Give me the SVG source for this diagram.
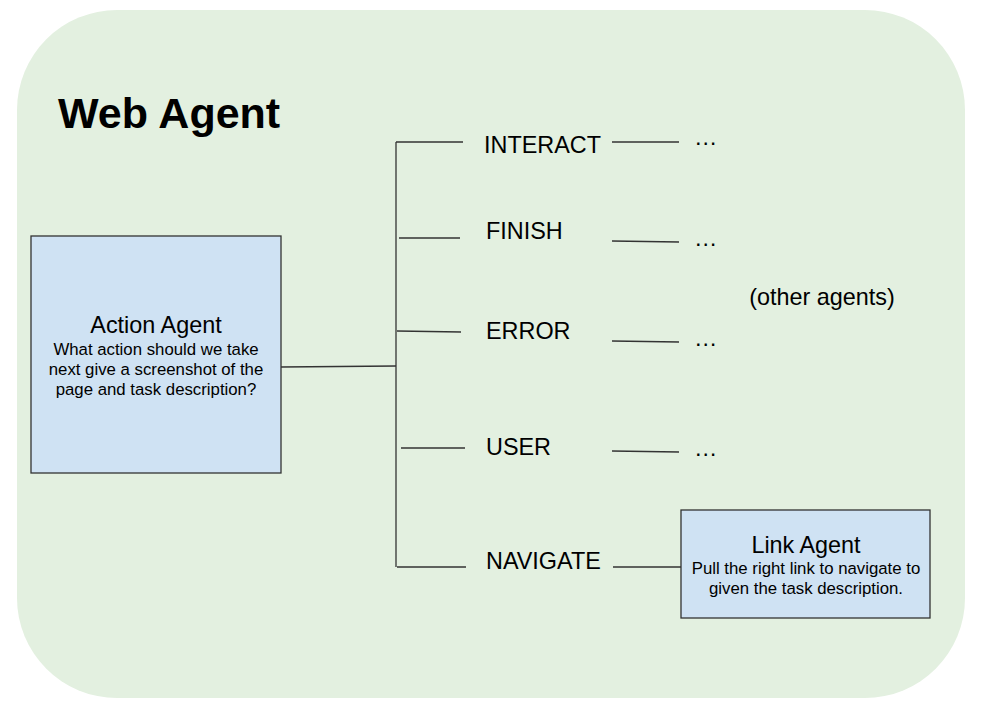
<svg xmlns="http://www.w3.org/2000/svg" width="984" height="716" viewBox="0 0 984 716">
<style>
text{font-family:"Liberation Sans",Arial,sans-serif;fill:#000}
.t{font-size:23.4px}
.s{font-size:16.8px}
.box{fill:#cfe2f3;stroke:#333;stroke-width:1.3}
.ln{stroke:#333;stroke-width:1.3;fill:none}
</style>
<rect x="17" y="10" width="948" height="688" rx="100" ry="100" fill="#e3f0e0"/>
<text x="58" y="128" font-size="43" font-weight="bold">Web Agent</text>
<g id="action-agent">
<rect class="box" x="31" y="236" width="250" height="237"/>
<text class="t" x="156" y="333" text-anchor="middle">Action Agent</text>
<text class="s" x="156" y="355" text-anchor="middle">What action should we take</text>
<text class="s" x="156" y="375" text-anchor="middle">next give a screenshot of the</text>
<text class="s" x="156" y="395" text-anchor="middle">page and task description?</text>
</g>
<g id="connectors">
<path class="ln" d="M281 367 L396 366"/>
<path class="ln" d="M396 142 L396 567"/>
<path class="ln" d="M396 142 L463 142"/>
<path class="ln" d="M399 238 L460 238"/>
<path class="ln" d="M397 331 L461 332"/>
<path class="ln" d="M401 448 L465 448"/>
<path class="ln" d="M397 567 L466 567"/>
<path class="ln" d="M612 142 L679 142"/>
<path class="ln" d="M612 241 L679 242"/>
<path class="ln" d="M612 341 L679 342"/>
<path class="ln" d="M612 451 L679 452"/>
<path class="ln" d="M613 567 L681 567"/>
</g>
<g id="interact"><text class="t" x="484" y="153">INTERACT</text><text class="t" x="694" y="145">…</text></g>
<g id="finish"><text class="t" x="486" y="239">FINISH</text><text class="t" x="694" y="246">…</text></g>
<g id="error"><text class="t" x="486" y="339">ERROR</text><text class="t" x="694" y="346">…</text></g>
<g id="user"><text class="t" x="486" y="455">USER</text><text class="t" x="694" y="456">…</text></g>
<g id="navigate"><text class="t" x="486" y="569">NAVIGATE</text></g>
<g id="other-agents"><text class="t" x="822" y="305" text-anchor="middle">(other agents)</text></g>
<g id="link-agent">
<rect class="box" x="681" y="510" width="249" height="108"/>
<text class="t" x="806" y="553" text-anchor="middle">Link Agent</text>
<text class="s" x="806" y="574" text-anchor="middle">Pull the right link to navigate to</text>
<text class="s" x="806" y="594" text-anchor="middle">given the task description.</text>
</g>
</svg>
